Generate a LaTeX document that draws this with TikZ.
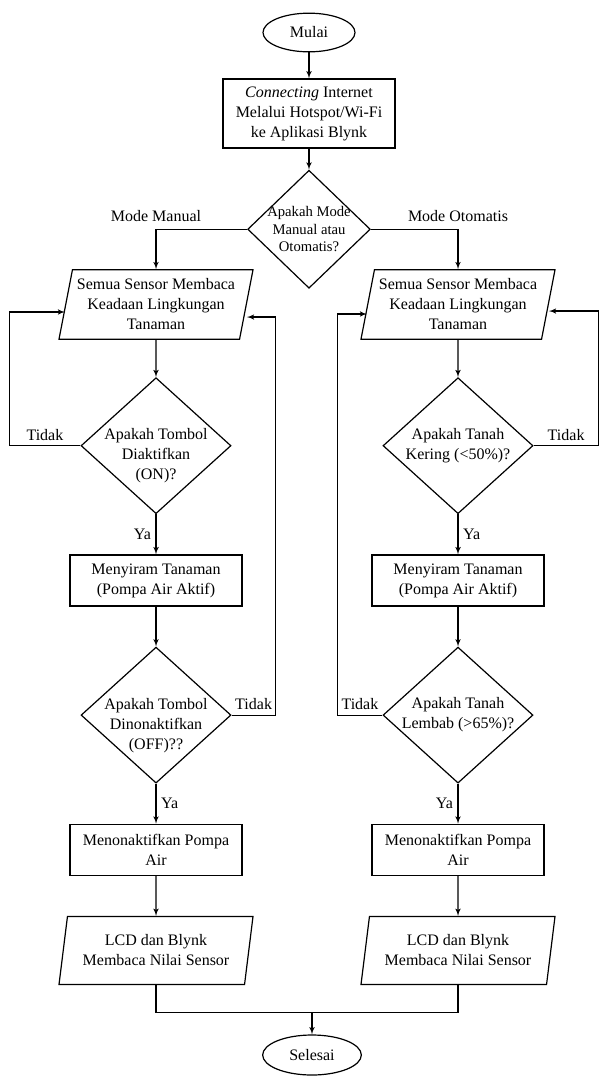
\documentclass[tikz,border=0pt]{standalone}
\usepackage{fontspec}
\setmainfont{Liberation Serif}
\usepackage{tikz}
\usetikzlibrary{arrows,shapes.geometric,positioning}
% teks tiga baris pada belah ketupat sedikit turun
\newcommand{\teksturun}[1]{\raisebox{-10.5pt}[0pt][0pt]{\begin{tabular}{@{}c@{}}#1\end{tabular}}}
\tikzset{
    %Define standard arrow tip
    >=latex',
    %Define style for boxes
    terminal/.style={
           ellipse,
           draw=black, line width=0.9pt,
           minimum width=69pt,
           minimum height=29pt,
           inner sep=0pt,
           font=\fontsize{12}{15}\selectfont,
           text centered},
    proses/.style={
           rectangle,
           draw=black, line width=0.9pt,
           minimum width=129pt,
           minimum height=38.25pt,
           inner sep=2pt,
           font=\fontsize{12}{15}\selectfont,
           align=center},
    io/.style={
           trapezium,
           trapezium left angle=76,
           trapezium right angle=104,
           trapezium stretches body=true,
           draw=black, line width=0.9pt,
           minimum width=145.5pt,
           minimum height=52pt,
           inner sep=1pt,
           font=\fontsize{12}{15}\selectfont,
           align=center},
    keputusan/.style={
           diamond,
           aspect=1.1,
           draw=black, line width=0.9pt,
           minimum width=112.5pt,
           minimum height=102pt,
           inner sep=-4pt,
           font=\fontsize{12}{15}\selectfont,
           align=center},
    % Define arrow style
    panah/.style={
           ->,
           line width=0.9pt},
    garis/.style={line width=0.9pt},
    ket/.style={font=\fontsize{12}{15}\selectfont}
}
\begin{document}
\begin{tikzpicture}[x=0.75pt,y=0.75pt,node distance=30pt]
\useasboundingbox (0,0) rectangle (600,-1076);
 %nodes
\node[terminal] (mulai) at (309,-32.5) {Mulai};
\node[proses, minimum height=51.75pt, below=19.5pt of mulai] (koneksi) {\textit{Connecting} Internet\\Melalui Hotspot/Wi-Fi\\ke Aplikasi Blynk};
\node[keputusan, minimum width=92pt, minimum height=88.5pt, aspect=1.04, font=\fontsize{11}{13}\selectfont, below=15.75pt of koneksi] (mode) {Apakah Mode\\Manual atau\\Otomatis?};
 %mode manual
\node[io] (baca1) at (156,-304.5) {Semua Sensor Membaca\\Keadaan Lingkungan\\Tanaman};
\node[keputusan, below=28pt of baca1] (on) {\teksturun{Apakah Tombol\\Diaktifkan\\(ON)?}};
\node[proses, below=of on] (siram1) {Menyiram Tanaman\\(Pompa Air Aktif)};
\node[keputusan, below=of siram1] (off) {\teksturun{Apakah Tombol\\Dinonaktifkan\\(OFF)??}};
\node[proses, below=of off] (mati1) {Menonaktifkan Pompa\\Air};
\node[io, minimum height=51pt, below=of mati1] (lcd1) {LCD dan Blynk\\Membaca Nilai Sensor};
 %mode otomatis
\node[io] (baca2) at (458,-304.5) {Semua Sensor Membaca\\Keadaan Lingkungan\\Tanaman};
\node[keputusan, below=28pt of baca2] (kering) {Apakah Tanah\\Kering (<50\%)?};
\node[proses, below=of kering] (siram2) {Menyiram Tanaman\\(Pompa Air Aktif)};
\node[keputusan, below=of siram2] (lembab) {Apakah Tanah\\Lembab (>65\%)?};
\node[proses, below=of lembab] (mati2) {Menonaktifkan Pompa\\Air};
\node[io, minimum height=51pt, below=of mati2] (lcd2) {LCD dan Blynk\\Membaca Nilai Sensor};
 %akhir
\node[terminal, minimum width=74pt, minimum height=30pt] (selesai) at (312,-1055) {Selesai};
\coordinate[above=16.5pt of selesai] (gabung);
 %edges
\draw[panah] (mulai) -- (koneksi);
\draw[panah] (koneksi) -- (mode);
\draw[panah] (mode.west) -| node[ket, above=2pt, pos=0.5]{Mode Manual} (baca1.north);
\draw[panah] (mode.east) -| node[ket, above=2pt, pos=0.5]{Mode Otomatis} (baca2.north);
\draw[panah] (baca1) -- (on);
\draw[panah] (on) -- node[ket, left]{Ya} (siram1);
\draw[panah] (siram1) -- (off);
\draw[panah] (off) -- node[ket, right]{Ya} (mati1);
\draw[panah] (mati1) -- (lcd1);
\draw[panah] (on.west) -- node[ket, above]{Tidak} ++(-71,0) |- ([yshift=-5.6pt]baca1.west);
\draw[panah] (off.east) -- node[ket, above]{Tidak} ++(44,0) |- ([yshift=-9.4pt]baca1.east);
\draw[panah] (baca2) -- (kering);
\draw[panah] (kering) -- node[ket, right]{Ya} (siram2);
\draw[panah] (siram2) -- (lembab);
\draw[panah] (lembab) -- node[ket, left]{Ya} (mati2);
\draw[panah] (mati2) -- (lcd2);
\draw[panah] (kering.east) -- node[ket, above]{Tidak} ++(65,0) |- ([yshift=-4.9pt]baca2.east);
\draw[panah] (lembab.west) -- node[ket, above]{Tidak} ++(-45,0) |- ([yshift=-7.1pt]baca2.west);
\draw[garis] (lcd1.south) |- (gabung) -| (lcd2.south);
\draw[panah] (gabung) -- (selesai);
\end{tikzpicture}
\end{document}
